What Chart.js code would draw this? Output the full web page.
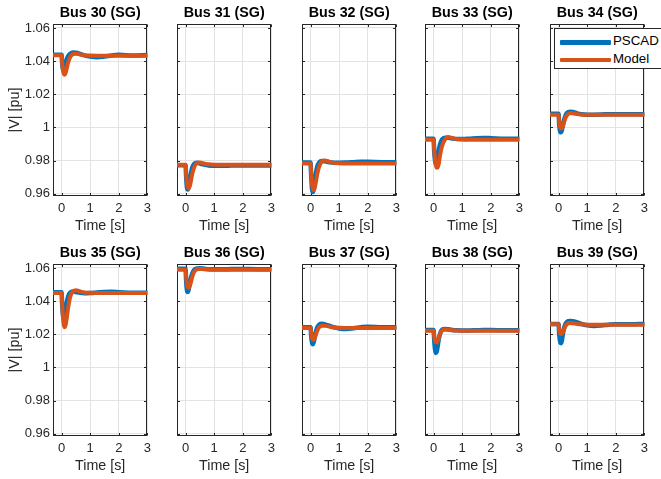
<!DOCTYPE html>
<html><head><meta charset="utf-8">
<script src="https://cdn.jsdelivr.net/npm/chart.js@4/dist/chart.umd.min.js"></script>
<style>
html,body{margin:0;padding:0;background:#fff;}
body{width:661px;height:479px;overflow:hidden;position:relative;font-family:'Liberation Sans',Arial,sans-serif;}
canvas{position:absolute;}
#legend{position:absolute;left:554px;top:28px;width:112px;height:41px;border:1px solid #262626;background:#fff;box-sizing:border-box;z-index:5;}
#legend .ln{position:absolute;left:5px;width:51px;border-radius:1px;}
#legend .tx{position:absolute;left:58px;font-size:13.3px;color:#000;line-height:16px;}
</style>
</head><body>
<div id="legend">
  <div class="ln" style="top:11px;height:4.5px;background:#0072BD"></div><div class="tx" style="top:4px">PSCAD</div>
  <div class="ln" style="top:29px;height:4px;background:#D95319"></div><div class="tx" style="top:22px">Model</div>
</div>
<script>
// ---- data ----
const TIME = [-0.3, 0, 0.02, 0.05, 0.08, 0.11, 0.14, 0.18, 0.23, 0.3, 0.4, 0.5, 0.65, 0.8, 1.0, 1.25, 1.5, 1.75, 2.0, 2.5, 3.0];
const TITLES = ['Bus 30 (SG)','Bus 31 (SG)','Bus 32 (SG)','Bus 33 (SG)','Bus 34 (SG)','Bus 35 (SG)','Bus 36 (SG)','Bus 37 (SG)','Bus 38 (SG)','Bus 39 (SG)'];
const X_TICKS = [0, 1, 2, 3];
const Y_TICKS = [0.96, 0.98, 1, 1.02, 1.04, 1.06];

const PSCAD_30 = [1.0438,1.0438,1.039,1.035,1.0345,1.036,1.0385,1.041,1.043,1.0445,1.0452,1.045,1.0443,1.0435,1.0428,1.0424,1.0428,1.0434,1.0438,1.0434,1.0437];
const MODEL_30 = [1.0435,1.0435,1.0395,1.0345,1.0322,1.0318,1.0328,1.0355,1.0392,1.0425,1.0443,1.0445,1.044,1.0436,1.0434,1.0433,1.0433,1.0433,1.0433,1.0433,1.0433];
const PSCAD_31 = [0.9772,0.9772,0.970,0.9635,0.9625,0.964,0.967,0.9715,0.9755,0.978,0.9787,0.9782,0.9775,0.977,0.9768,0.9768,0.9769,0.977,0.977,0.977,0.977];
const MODEL_31 = [0.9775,0.9775,0.972,0.9665,0.9638,0.9632,0.9642,0.967,0.9717,0.976,0.9785,0.9788,0.9782,0.9777,0.9775,0.9775,0.9775,0.9775,0.9775,0.9775,0.9775];
const PSCAD_32 = [0.9788,0.9788,0.971,0.963,0.961,0.9625,0.966,0.9715,0.976,0.9788,0.9797,0.9795,0.979,0.9787,0.9787,0.9788,0.979,0.9792,0.9792,0.979,0.979];
const MODEL_32 = [0.9782,0.9782,0.9725,0.966,0.9628,0.9621,0.9632,0.9665,0.9715,0.9763,0.9795,0.980,0.9793,0.9786,0.9783,0.9782,0.9782,0.9782,0.9782,0.9782,0.9782];
const PSCAD_33 = [0.9932,0.9932,0.986,0.980,0.978,0.979,0.9818,0.986,0.990,0.9928,0.9938,0.9938,0.9933,0.993,0.993,0.9932,0.9935,0.9936,0.9935,0.9932,0.9932];
const MODEL_33 = [0.9926,0.9926,0.9875,0.981,0.9772,0.9756,0.9758,0.978,0.9835,0.989,0.9928,0.9942,0.9937,0.993,0.9927,0.9926,0.9926,0.9926,0.9926,0.9926,0.9926];
const PSCAD_34 = [1.0082,1.0082,1.002,0.9978,0.997,0.998,1.0005,1.0035,1.0065,1.0088,1.0095,1.0093,1.0085,1.008,1.0077,1.0077,1.0078,1.008,1.008,1.0079,1.0079];
const MODEL_34 = [1.0076,1.0076,1.004,1.0005,0.9994,0.9994,1.0003,1.0025,1.0052,1.0075,1.0085,1.0085,1.008,1.0077,1.0076,1.0076,1.0076,1.0076,1.0076,1.0076,1.0076];
const PSCAD_35 = [1.0453,1.0453,1.038,1.0315,1.0295,1.031,1.0345,1.039,1.0428,1.0452,1.0458,1.0455,1.045,1.0448,1.0449,1.0452,1.0455,1.0456,1.0454,1.045,1.045];
const MODEL_35 = [1.0449,1.0449,1.039,1.030,1.0255,1.0243,1.0255,1.0295,1.036,1.0425,1.046,1.0466,1.0458,1.0452,1.045,1.0449,1.0449,1.0449,1.0449,1.0449,1.0449];
const PSCAD_36 = [1.0595,1.0595,1.052,1.0465,1.0455,1.0472,1.050,1.0535,1.0565,1.0588,1.0597,1.0598,1.0596,1.0593,1.0592,1.0592,1.0593,1.0594,1.0594,1.0593,1.0593];
const MODEL_36 = [1.059,1.059,1.0545,1.050,1.0482,1.048,1.0488,1.051,1.0545,1.0577,1.0593,1.0596,1.0593,1.0591,1.059,1.059,1.059,1.059,1.059,1.059,1.059];
const PSCAD_37 = [1.0243,1.0243,1.019,1.015,1.014,1.0152,1.018,1.021,1.024,1.0258,1.0263,1.026,1.0252,1.0243,1.0235,1.0232,1.0236,1.0242,1.0246,1.0243,1.0243];
const MODEL_37 = [1.0238,1.0238,1.021,1.018,1.0168,1.0167,1.0175,1.0195,1.022,1.0242,1.0252,1.0252,1.0246,1.0241,1.0239,1.0238,1.0238,1.0238,1.0238,1.0238,1.0238];
const PSCAD_38 = [1.0225,1.0225,1.017,1.011,1.0087,1.0095,1.0125,1.017,1.0205,1.0228,1.0232,1.023,1.0226,1.0224,1.0223,1.0223,1.0224,1.0225,1.0225,1.0224,1.0224];
const MODEL_38 = [1.0221,1.0221,1.019,1.0163,1.0151,1.015,1.0158,1.0178,1.0203,1.0222,1.0228,1.0227,1.0224,1.0222,1.0221,1.0221,1.0221,1.0221,1.0221,1.0221,1.0221];
const PSCAD_39 = [1.0262,1.0262,1.0205,1.0158,1.0146,1.0158,1.019,1.0228,1.0258,1.0275,1.028,1.0278,1.0272,1.0262,1.0254,1.025,1.0253,1.0258,1.0261,1.026,1.0262];
const MODEL_39 = [1.026,1.026,1.0232,1.0208,1.0201,1.0201,1.0208,1.0225,1.0245,1.0262,1.0268,1.0266,1.0262,1.026,1.0258,1.0257,1.0257,1.0258,1.0258,1.0258,1.0258];

const PSCAD = [PSCAD_30,PSCAD_31,PSCAD_32,PSCAD_33,PSCAD_34,PSCAD_35,PSCAD_36,PSCAD_37,PSCAD_38,PSCAD_39];
const MODEL = [MODEL_30,MODEL_31,MODEL_32,MODEL_33,MODEL_34,MODEL_35,MODEL_36,MODEL_37,MODEL_38,MODEL_39];

// ---- layout / style ----
const FONT = "'Liberation Sans', Arial, sans-serif";
const TXT = '#262626', AX = '#262626', GRID = '#e3e3e3';
const BOX_LEFT = [53, 177, 302, 425, 550];
const BOX_TOP = [24, 264];
const BOX_W = 95, BOX_H = 172, TITLE_H = 24, XAX_H = 38, PAD_R = 8;

const boxPlugin = {
  id: 'matlabBox',
  beforeDatasetsDraw(chart) {
    const {ctx, chartArea: a, scales: {x, y}} = chart;
    ctx.save();
    ctx.strokeStyle = AX; ctx.lineWidth = 1;
    const L = Math.round(a.left) + 0.5, R = Math.round(a.right) - 0.5;
    const T = Math.round(a.top) + 0.5, B = Math.round(a.bottom) - 0.5;
    ctx.strokeRect(L, T, R - L, B - T);
    ctx.beginPath();
    const tl = 2.5;
    X_TICKS.forEach(v => { const p = Math.round(x.getPixelForValue(v)) + 0.5;
      ctx.moveTo(p, B); ctx.lineTo(p, B - tl); ctx.moveTo(p, T); ctx.lineTo(p, T + tl); });
    Y_TICKS.forEach(v => { const p = Math.round(y.getPixelForValue(v)) + 0.5;
      ctx.moveTo(L, p); ctx.lineTo(L + tl, p); ctx.moveTo(R, p); ctx.lineTo(R - tl, p); });
    ctx.stroke();
    ctx.restore();
  }
};

TITLES.forEach((title, i) => {
  const col = i % 5, row = Math.floor(i / 5);
  const yw = col === 0 ? 53 : 4;
  const cv = document.createElement('canvas');
  const W = yw + BOX_W + PAD_R, H = TITLE_H + BOX_H + XAX_H;
  cv.width = W; cv.height = H;
  cv.style.left = (BOX_LEFT[col] - yw) + 'px';
  cv.style.top = (BOX_TOP[row] - TITLE_H) + 'px';
  cv.style.width = W + 'px'; cv.style.height = H + 'px';
  document.body.appendChild(cv);
  const mk = (arr) => TIME.map((t, k) => ({x: t, y: arr[k]}));
  new Chart(cv, {
    type: 'line',
    data: { datasets: [
      { label: 'Model', data: mk(MODEL[i]), borderColor: '#D95319', borderWidth: 4, order: 0,
        pointRadius: 0, cubicInterpolationMode: 'monotone', borderCapStyle: 'round', borderJoinStyle: 'round', fill: false },
      { label: 'PSCAD', data: mk(PSCAD[i]), borderColor: '#0072BD', borderWidth: 4.5, order: 1,
        pointRadius: 0, cubicInterpolationMode: 'monotone', borderCapStyle: 'round', borderJoinStyle: 'round', fill: false }
    ]},
    options: {
      responsive: false, animation: false, devicePixelRatio: 1,
      layout: { padding: { left: 0, right: PAD_R, top: 0, bottom: 0 } },
      plugins: {
        legend: { display: false }, tooltip: { enabled: false },
        title: { display: true, text: title, fullSize: false, color: '#000',
          font: { family: FONT, size: 14.3, weight: 'bold', lineHeight: 1 }, padding: { top: 6, bottom: 3.7 } }
      },
      scales: {
        x: { type: 'linear', min: -0.3, max: 3,
          afterBuildTicks: s => { s.ticks = X_TICKS.map(v => ({value: v})); },
          afterFit: s => { s.height = XAX_H; },
          grid: { color: GRID, drawTicks: false }, border: { display: false },
          ticks: { color: TXT, font: { family: FONT, size: 13 }, padding: 5, maxRotation: 0, autoSkip: false, callback: v => String(v) },
          title: { display: true, text: 'Time [s]', color: TXT, font: { family: FONT, size: 14.3, lineHeight: 1 }, padding: { top: 0, bottom: 1 } } },
        y: { type: 'linear', min: 0.9586, max: 1.0624,
          afterBuildTicks: s => { s.ticks = Y_TICKS.map(v => ({value: v})); },
          afterFit: s => { s.width = yw; },
          grid: { color: GRID, drawTicks: false }, border: { display: false },
          ticks: { display: col === 0, color: TXT, font: { family: FONT, size: 13 }, padding: 3, callback: v => String(+(+v).toFixed(2)) },
          title: { display: col === 0, text: '|V| [pu]', color: TXT, font: { family: FONT, size: 14.3, lineHeight: 1 }, padding: { top: 7.5, bottom: 0 } } }
      }
    },
    plugins: [boxPlugin]
  });
});
</script>
</body></html>
